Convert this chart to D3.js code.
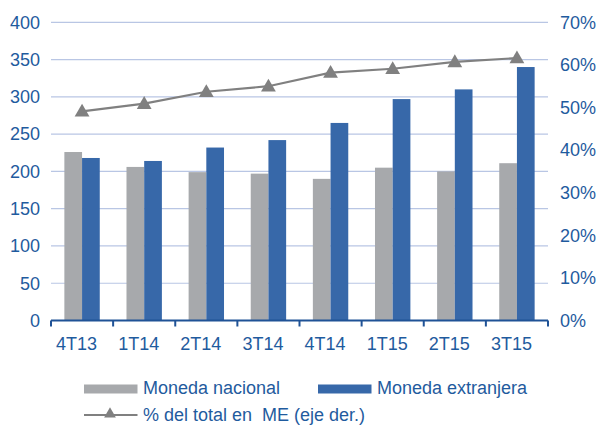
<!DOCTYPE html>
<html><head><meta charset="utf-8">
<script src="https://cdn.jsdelivr.net/npm/d3@7"></script>
<style>body{margin:0;background:#fff}svg{display:block}text{font-family:"Liberation Sans",Arial,sans-serif}</style>
</head><body><svg id="c" width="597" height="427"></svg>
<script>
const categories = ["4T13","1T14","2T14","3T14","4T14","1T15","2T15","3T15"];
const monedaNacional = [226,206,199,197,190,205,200,211];
const monedaExtranjera = [218,214,232,242,265,297,310,340];
const pctME = [49.1,50.9,53.7,55.0,58.2,59.1,60.7,61.6];
const leftTicks = [0,50,100,150,200,250,300,350,400];
const rightTicks = [0,10,20,30,40,50,60,70];

const svg = d3.select("#c");
const L = 51, R = 548, T = 22.3, B = 320.5;
const textCol = "#1f5b9e";
const fs = 18;
const x = d3.scaleBand().domain(categories).range([L,R]);
const y = d3.scaleLinear().domain([0,400]).range([B,T]);
const y2 = d3.scaleLinear().domain([0,70]).range([B,T]);

// gridlines
svg.append("g").selectAll("line").data(leftTicks.slice(1)).join("line")
  .attr("x1",L).attr("x2",R).attr("y1",d=>y(d)).attr("y2",d=>y(d))
  .attr("stroke","#b9c6e4").attr("stroke-width",1.2);

// bars
const bw = 17.7;
svg.append("g").selectAll("rect").data(categories).join("rect")
  .attr("x",d=>x(d)+x.bandwidth()/2-bw).attr("width",bw)
  .attr("y",(d,i)=>y(monedaNacional[i])).attr("height",(d,i)=>B-y(monedaNacional[i]))
  .attr("fill","#a7a9ac");
svg.append("g").selectAll("rect").data(categories).join("rect")
  .attr("x",d=>x(d)+x.bandwidth()/2).attr("width",bw)
  .attr("y",(d,i)=>y(monedaExtranjera[i])).attr("height",(d,i)=>B-y(monedaExtranjera[i]))
  .attr("fill","#3768a9");

// x axis line + ticks
const ax = svg.append("g");
ax.append("line").attr("x1",L).attr("x2",R).attr("y1",B).attr("y2",B).attr("stroke","#1f5296").attr("stroke-width",2);
const bounds = categories.map(c=>x(c)).concat([R]);
ax.selectAll("line.t").data(bounds).join("line").attr("class","t")
  .attr("x1",d=>d).attr("x2",d=>d).attr("y1",B).attr("y2",B+6).attr("stroke","#1f5296").attr("stroke-width",2);

// line series
const line = d3.line().x((d,i)=>x(categories[i])+x.bandwidth()/2).y(d=>y2(d));
svg.append("path").datum(pctME).attr("d",line).attr("fill","none").attr("stroke","#808080").attr("stroke-width",2.2);
const tri = d3.symbol().type(d3.symbolTriangle).size(95);
svg.append("g").selectAll("path").data(pctME).join("path")
  .attr("d",tri).attr("transform",(d,i)=>`translate(${x(categories[i])+x.bandwidth()/2},${y2(d)+1})`)
  .attr("fill","#808080");

// axis labels
svg.append("g").selectAll("text").data(leftTicks).join("text")
  .attr("x",40).attr("y",d=>y(d)+6.3).attr("text-anchor","end")
  .attr("font-size",fs).attr("fill",textCol).text(d=>d);
svg.append("g").selectAll("text").data(rightTicks).join("text")
  .attr("x",560).attr("y",d=>y2(d)+6.3).attr("text-anchor","start")
  .attr("font-size",fs).attr("fill",textCol).text(d=>d+"%");
svg.append("g").selectAll("text").data(categories).join("text")
  .attr("x",d=>x(d)+x.bandwidth()/2-5.5).attr("y",350).attr("text-anchor","middle")
  .attr("font-size",fs).attr("fill",textCol).text(d=>d);

// legend
const lg = svg.append("g");
lg.append("rect").attr("x",84).attr("y",384.5).attr("width",53.5).attr("height",9).attr("fill","#a7a9ac");
lg.append("text").attr("x",143).attr("y",394).attr("font-size",fs).attr("fill",textCol).text("Moneda nacional");
lg.append("rect").attr("x",318).attr("y",384.5).attr("width",53.5).attr("height",9).attr("fill","#3768a9");
lg.append("text").attr("x",377).attr("y",394).attr("font-size",fs).attr("fill",textCol).text("Moneda extranjera");
lg.append("line").attr("x1",84).attr("x2",137.5).attr("y1",415).attr("y2",415).attr("stroke","#808080").attr("stroke-width",2.2);
lg.append("path").attr("d",d3.symbol().type(d3.symbolTriangle).size(60)).attr("transform","translate(110,414)").attr("fill","#808080");
lg.append("text").attr("x",143).attr("y",421).attr("font-size",fs).attr("fill",textCol).style("white-space","pre").text("% del total en  ME (eje der.)");
</script></body></html>
